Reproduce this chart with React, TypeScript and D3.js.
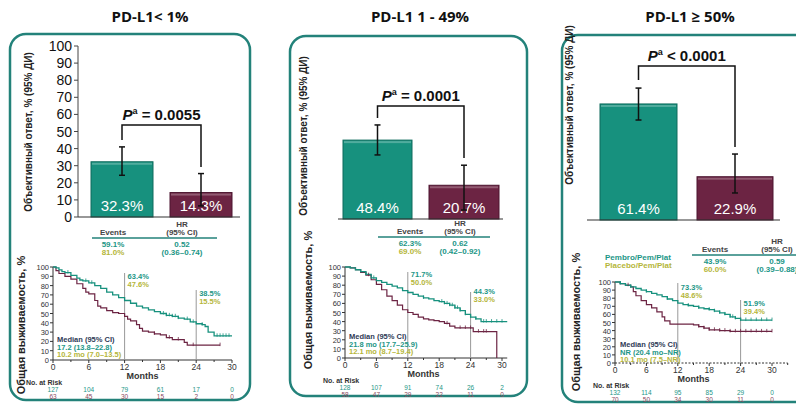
import React from "react";
import * as d3 from "d3";

// ---------- DATA ----------
const panelTitles = ["PD-L1< 1%", "PD-L1 1 - 49%", "PD-L1 ≥ 50%"];
const orrPembro = [32.3, 48.4, 61.4];
const orrPembroLo = [24.4, 39.3, 52.9];
const orrPembroHi = [41.0, 57.7, 69.8];
const orrPlacebo = [14.3, 20.7, 22.9];
const orrPlaceboLo = [6.5, 5.5, 14.3];
const orrPlaceboHi = [25.4, 33.0, 34.9];
const pOps = ["=", "=", "<"];
const pVals = ["0.0055", "0.0001", "0.0001"];
const barTicks = [0, 10, 20, 30, 40, 50, 60, 70, 80, 90, 100];

const eventsPembro = ["59.1%", "62.3%", "43.9%"];
const eventsPlacebo = ["81.0%", "69.0%", "60.0%"];
const hrVals = ["0.52", "0.62", "0.59"];
const hrCIs = ["(0.36–0.74)", "(0.42–0.92)", "(0.39–0.88)"];
const armNames = ["Pembro/Pem/Plat", "Placebo/Pem/Plat"];

const os12Pembro = ["63.4%", "71.7%", "73.3%"];
const os12Placebo = ["47.6%", "50.0%", "48.6%"];
const os24Pembro = ["38.5%", "44.3%", "51.9%"];
const os24Placebo = ["15.5%", "33.0%", "39.4%"];
const medianPembro = ["17.2 (13.8–22.8)", "21.8 mo (17.7–25.9)", "NR (20.4 mo–NR)"];
const medianPlacebo = ["10.2 mo (7.0–13.5)", "12.1 mo (8.7–19.4)", "10.1 mo (7.5–NR)"];

const monthTicks = [0, 6, 12, 18, 24, 30];
const survTicks = [0, 10, 20, 30, 40, 50, 60, 70, 80, 90, 100];
const riskPembro = [
  [127, 104, 79, 61, 17, 0],
  [128, 107, 91, 74, 26, 2],
  [132, 114, 95, 85, 29, 0],
];
const riskPlacebo = [
  [63, 45, 30, 15, 2, 0],
  [58, 47, 29, 22, 11, 0],
  [70, 50, 34, 30, 11, 0],
];

const kmPembro1: [number, number][] = [[0,100],[0.5,99],[1,97],[1.5,95],[2,94],[3,91],[4,88],[4.5,86],[5,85],[6,83],[7,80],[8,77],[9,73],[10,70],[11,67],[12,64],[13,61],[14,58],[15,56],[16,54],[17,52],[18,50],[19,48],[20,47],[21,45],[22,44],[23,41],[24,39],[25,38],[25.5,36],[26,30],[27,26],[30,26]];
const kmPlacebo1: [number, number][] = [[0,100],[0.5,96],[1,93],[2,90],[3,87],[4,82],[5,77],[5.5,73],[6,71],[7,64],[7.5,58],[8,56],[9,53],[10,51],[11,50],[12,47],[12.5,44],[13,42],[14,38],[14.5,34],[15,31],[16,30],[17,28],[18,27],[19,24],[20,22],[22,19],[22.5,16],[28,16]];
const kmPembro2: [number, number][] = [[0,100],[1,99],[2,97],[3,95],[4,92],[5,88],[6,85],[7,83],[8,81],[9,79],[10,77],[11,74],[12,72],[13,70],[14,68],[15,66],[16,65],[17,63],[18,62],[19,60],[20,58],[21,55],[22,52],[23,48],[24,45],[25,43],[26,40],[31,40]];
const kmPlacebo2: [number, number][] = [[0,100],[1,99],[2,97],[3,94],[4,91],[5,86],[6,81],[7,75],[8,68],[9,63],[10,58],[11,53],[12,50],[13,48],[14,45],[15,43],[16,42],[17,41],[18,40],[19,38],[20,35],[21,33],[24.5,29],[29,0],[29,0]];
const kmPembro3: [number, number][] = [[0,100],[1,98],[2,96],[3,94],[4,92],[5,90],[6,88],[7,86],[8,84],[9,82],[10,79],[11,77],[12,74],[13,72],[14,71],[15,70],[16,68],[17,67],[18,66],[19,64],[20,62],[21,60],[22,57],[23,55],[24,53],[30,53]];
const kmPlacebo3: [number, number][] = [[0,100],[1,98],[2,96],[3,94],[3.5,88],[4,83],[5,77],[6,72],[7,68],[8,63],[9,57],[9.5,52],[10.5,48],[14,48],[15,47],[16,45],[17,43],[18,41],[20,40],[22,39],[30,39]];
const censPembro = [
  [2.5,5.5,6.5,18.5,19,19.5,20,20.5,21,22.5,23.5,25,27.5,28,28.5,29,29.5],
  [4,5.5,15,18.5,19,19.5,20,20.5,21,21.5,22,23,24,25,26.5,27,28,29,30],
  [1,3,6,10,14,16,18,19,20,21,22,22.5,23,24,25,26,27,28,29,30],
];
const censPlacebo = [
  [17,19.5,21,23.5,28],
  [4.5,19.5,22,23,24,25.5,26.5,27],
  [2.5,16,17,18,19,20,21,22,23,24,25,26,27,28,29,30],
];
const kmPembro = [kmPembro1, kmPembro2, kmPembro3];
const kmPlacebo = [kmPlacebo1, kmPlacebo2, kmPlacebo3];

// ---------- STYLE / LAYOUT ----------
const TEAL = "#17917e";
const TEAL_TXT = "#1c9686";
const MAROON = "#6c2443";
const OLIVE = "#b5b63a";
const BORDER = "#23827a";
const DARK = "#2e3a56";
const FONT = "'Liberation Sans', Arial, sans-serif";

const layout = [
  { box: [10, 34, 240, 366], titleX: 150, base: 217, top100: 46, axisX: 78, baseX: [78, 240], bars: [[91, 153], [170, 232]],
    brTop: 125, brL: 140, brR: 167, showTicks: true, ylabX: 32, ylabY: 132,
    tbl: { evX: 113, hrX: 182, y: 235, line: [92, 217], arm: false },
    km: { x0: 53, x1: 232, y100: 267, y0: 360, l12: 273, l24: 290, ylabX: 25, ylabY: 325, riskX: 26, medX: 57, medY: 342, lbl12Y: 279, lbl24Y: 296 } },
  { box: [290, 36, 237, 360], titleX: 420, base: 219, top100: 56, axisX: 338, baseX: [338, 503], bars: [[343, 412], [429, 499]],
    brTop: 106, brL: 118, brR: 158, showTicks: false, ylabX: 307, ylabY: 136,
    tbl: { evX: 410, hrX: 460, y: 234, line: [378, 490], arm: false },
    km: { x0: 345, x1: 502, y100: 267, y0: 358, l12: 272, l24: 292, ylabX: 312, ylabY: 300, riskX: 323, medX: 349, medY: 339, lbl12Y: 277, lbl24Y: 294 } },
  { box: [562, 35, 260, 367], titleX: 690, base: 220, top100: 31, axisX: 587, baseX: [587, 780], bars: [[600, 677], [697, 773]],
    brTop: 66, brL: 80, brR: 147, showTicks: false, ylabX: 573, ylabY: 105,
    tbl: { evX: 715, hrX: 777, y: 252, line: [692, 796], arm: true },
    km: { x0: 615, x1: 772, y100: 282, y0: 363, l12: 283, l24: 300, ylabX: 580, ylabY: 322, riskX: 593, medX: 620, medY: 347, lbl12Y: 290, lbl24Y: 306 } },
];

function Panel({ i }: { i: number }) {
  const L = layout[i];
  const y = d3.scaleLinear().domain([0, 100]).range([L.base, L.top100]);
  const k = L.km;
  const kx = d3.scaleLinear().domain([0, 30]).range([k.x0, k.x1]);
  const ky = d3.scaleLinear().domain([0, 100]).range([k.y0, k.y100]);
  const line = d3.line<[number, number]>().x(d => kx(d[0])).y(d => ky(d[1])).curve(d3.curveStepAfter);
  const survAt = (pts: [number, number][], t: number) => {
    let v = pts[0][1];
    for (const p of pts) if (p[0] <= t) v = p[1];
    return v;
  };
  const vals = [orrPembro[i], orrPlacebo[i]];
  const los = [orrPembroLo[i], orrPlaceboLo[i]];
  const his = [orrPembroHi[i], orrPlaceboHi[i]];
  const cols = [TEAL, MAROON];
  const cx = L.bars.map(b => (b[0] + b[1]) / 2);
  const [bx, by, bw, bh] = L.box;
  const t = L.tbl;
  const kxMax = i === 1 ? 31 : i === 2 ? 33 : 30;
  return (
    <g fontFamily={FONT}>
      <text x={L.titleX} y={22} textAnchor="middle" fontSize={15} fontWeight="bold" fill="#111" fontFamily="'Open Sans', sans-serif">{panelTitles[i]}</text>
      <rect x={bx} y={by} width={bw} height={bh} rx={16} fill="#fff" stroke={BORDER} strokeWidth={2.5} />
      {/* bar chart */}
      <text transform={`translate(${L.ylabX},${L.ylabY}) rotate(-90)`} textAnchor="middle" fontSize={10} fontWeight="bold" fill="#222">Объективный ответ, % (95% ДИ)</text>
      {L.showTicks && (
        <g>
          <line x1={L.axisX} x2={L.axisX} y1={y(0)} y2={y(100)} stroke="#444" />
          {barTicks.map(v => (
            <g key={v}>
              <line x1={L.axisX - 4} x2={L.axisX} y1={y(v)} y2={y(v)} stroke="#444" />
              <text x={L.axisX - 6} y={y(v) + 5} textAnchor="end" fontSize={14} fill="#111">{v}</text>
            </g>
          ))}
        </g>
      )}
      {vals.map((v, j) => (
        <g key={j}>
          <rect x={L.bars[j][0]} y={y(v)} width={L.bars[j][1] - L.bars[j][0]} height={y(0) - y(v)} fill={cols[j]} stroke={j === 0 ? "#0e6b5c" : "#4c1530"} strokeWidth={1} />
          <rect x={L.bars[j][0] + 1} y={y(v) + 1} width={L.bars[j][1] - L.bars[j][0] - 2} height={2} fill="#fff" opacity={0.25} />
          <text x={cx[j]} y={y(0) - 6} textAnchor="middle" fontSize={15} fill="#fff">{v.toFixed(1)}%</text>
          <line x1={cx[j]} x2={cx[j]} y1={y(los[j])} y2={y(his[j])} stroke="#111" strokeWidth={1.5} />
          <line x1={cx[j] - 3} x2={cx[j] + 3} y1={y(los[j])} y2={y(los[j])} stroke="#111" strokeWidth={1.5} />
          <line x1={cx[j] - 3} x2={cx[j] + 3} y1={y(his[j])} y2={y(his[j])} stroke="#111" strokeWidth={1.5} />
        </g>
      ))}
      <line x1={L.baseX[0]} x2={L.baseX[1]} y1={y(0)} y2={y(0)} stroke="#333" strokeWidth={1.2} />
      <path d={`M${cx[0]},${L.brL}V${L.brTop}H${cx[1]}V${L.brR}`} fill="none" stroke="#111" strokeWidth={1.5} />
      <text x={(cx[0] + cx[1]) / 2} y={L.brTop - 5} textAnchor="middle" fontSize={15} fontWeight="bold" fill="#111">
        <tspan fontStyle="italic">P</tspan><tspan fontSize={9} dy={-6}>a</tspan><tspan dy={6}>{` ${pOps[i]} ${pVals[i]}`}</tspan>
      </text>
      {/* table */}
      <g fontSize={8} fontWeight="bold" textAnchor="middle">
        <text x={t.hrX} y={t.y - 8} fill="#444">HR</text>
        <text x={t.evX} y={t.y} fill="#444">Events</text>
        <text x={t.hrX} y={t.y} fill="#444">(95% CI)</text>
        <line x1={t.line[0]} x2={t.line[1]} y1={t.y + 3} y2={t.y + 3} stroke={BORDER} strokeWidth={1.5} />
        <text x={t.evX} y={t.y + 12} fill={TEAL_TXT}>{eventsPembro[i]}</text>
        <text x={t.hrX} y={t.y + 12} fill={TEAL_TXT}>{hrVals[i]}</text>
        <text x={t.evX} y={t.y + 20} fill={OLIVE}>{eventsPlacebo[i]}</text>
        <text x={t.hrX} y={t.y + 20} fill={TEAL_TXT}>{hrCIs[i]}</text>
        {t.arm && (
          <g textAnchor="start">
            <text x={605} y={t.y + 8} fill={TEAL_TXT}>{armNames[0]}</text>
            <text x={605} y={t.y + 16} fill={OLIVE}>{armNames[1]}</text>
          </g>
        )}
      </g>
      {/* KM plot */}
      <text transform={`translate(${k.ylabX},${k.ylabY}) rotate(-90)`} textAnchor="middle" fontSize={11} fontWeight="bold" fill="#222">Общая выживаемость, %</text>
      <line x1={k.x0} x2={k.x0} y1={k.y0} y2={k.y100} stroke="#333" />
      <line x1={k.x0} x2={kx(kxMax)} y1={k.y0} y2={k.y0} stroke="#333" strokeDasharray={i === 2 ? "2,1.5" : undefined} />
      {survTicks.map(v => (
        <g key={v}>
          <line x1={k.x0 - 3} x2={k.x0} y1={ky(v)} y2={ky(v)} stroke="#333" />
          <text x={k.x0 - 4} y={ky(v) + 3} textAnchor="end" fontSize={7.5} fill="#333">{v}</text>
        </g>
      ))}
      {d3.range(0, kxMax + 1, 3).map(m => (
        <line key={m} x1={kx(m)} x2={kx(m)} y1={k.y0} y2={k.y0 + (m % 6 === 0 ? 3 : 2)} stroke="#333" />
      ))}
      {monthTicks.map(m => (
        <text key={m} x={kx(m)} y={k.y0 + 10} textAnchor="middle" fontSize={8.5} fill="#333">{m}</text>
      ))}
      <text x={kx(15)} y={k.y0 + 18.5} textAnchor="middle" fontSize={9} fontWeight="bold" fill="#333">Months</text>
      <line x1={kx(12)} x2={kx(12)} y1={k.l12} y2={k.y0} stroke="#999" />
      <line x1={kx(24)} x2={kx(24)} y1={k.l24} y2={k.y0} stroke="#999" />
      <path d={line(kmPlacebo[i]) || ""} fill="none" stroke={MAROON} strokeWidth={1.2} />
      <path d={line(kmPembro[i]) || ""} fill="none" stroke={TEAL} strokeWidth={1.3} />
      {censPlacebo[i].map((m, j) => (
        <line key={"p" + j} x1={kx(m)} x2={kx(m)} y1={ky(survAt(kmPlacebo[i], m)) - 2.5} y2={ky(survAt(kmPlacebo[i], m)) + 1} stroke={MAROON} strokeWidth={0.8} />
      ))}
      {censPembro[i].map((m, j) => (
        <line key={"t" + j} x1={kx(m)} x2={kx(m)} y1={ky(survAt(kmPembro[i], m)) - 2.5} y2={ky(survAt(kmPembro[i], m)) + 1} stroke={TEAL} strokeWidth={0.8} />
      ))}
      <g fontSize={7.5} fontWeight="bold">
        <text x={kx(12) + 3} y={k.lbl12Y} fill={TEAL_TXT}>{os12Pembro[i]}</text>
        <text x={kx(12) + 3} y={k.lbl12Y + 7.5} fill={OLIVE}>{os12Placebo[i]}</text>
        <text x={kx(24) + 3} y={k.lbl24Y} fill={TEAL_TXT}>{os24Pembro[i]}</text>
        <text x={kx(24) + 3} y={k.lbl24Y + 7.5} fill={OLIVE}>{os24Placebo[i]}</text>
        <text x={k.medX} y={k.medY} fill={DARK}>Median (95% CI)</text>
        <text x={k.medX} y={k.medY + 7.5} fill={TEAL_TXT}>{medianPembro[i]}</text>
        <text x={k.medX} y={k.medY + 15} fill={OLIVE}>{medianPlacebo[i]}</text>
      </g>
      <text x={k.riskX} y={k.y0 + 24.5} fontSize={7} fontWeight="bold" fill="#333">No. at Risk</text>
      {monthTicks.map((m, j) => (
        <g key={m} fontSize={6.5} textAnchor="middle">
          <text x={kx(m)} y={k.y0 + 31.5} fill={TEAL_TXT}>{riskPembro[i][j]}</text>
          <text x={kx(m)} y={k.y0 + 38.5} fill="#8a4a60">{riskPlacebo[i][j]}</text>
        </g>
      ))}
    </g>
  );
}

export default function App() {
  return (
    <svg width={796} height={404} style={{ position: "absolute", left: 0, top: 0, background: "#fff" }}>
      <rect width={796} height={404} fill="#fff" />
      {[0, 1, 2].map(i => <Panel key={i} i={i} />)}
    </svg>
  );
}
